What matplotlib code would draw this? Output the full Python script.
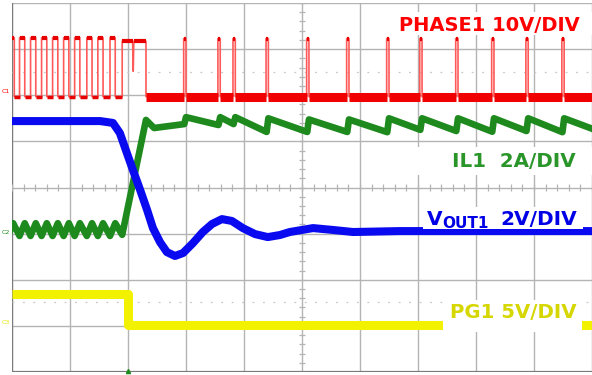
import numpy as np
import matplotlib.pyplot as plt
from matplotlib.patches import Rectangle

plt.rcParams['font.family'] = ['DejaVu Sans']

# time axis in scope divisions (10 div across the screen), transient at 2.0 div
# CH1 PHASE1, 10 V/div, ground marker at 5.97 div
ph_scale, ph_offset = 10.0, 5.97
ph_on = [-0.05, 0.13, 0.32, 0.51, 0.70, 0.89, 1.08, 1.29, 1.48, 1.69]
ph_off = [0.04, 0.22, 0.41, 0.60, 0.79, 0.98, 1.17, 1.38, 1.57, 1.78]
ph_high = 12.8
ph_hold = [1.90, 2.31]
ph_hold_level = 12.0
ph_dip_t = 2.09
ph_dip_level = 5.5
spikes = [2.98, 3.57, 3.83, 4.40, 5.10, 5.79, 6.48, 7.05, 7.67, 8.29, 8.88, 9.50]
spike_level = 12.6

# CH2 IL1, 2 A/div, ground marker at 3 div
il_scale, il_offset = 2.0, 3.0
il_peaks = [0.02, 0.22, 0.41, 0.60, 0.79, 0.98, 1.17, 1.38, 1.57, 1.78]
il_valley = -0.1
il_peak = 0.45
il_ramp_t = [1.90, 2.31, 2.45]
il_ramp_a = [-0.05, 4.93, 4.58]
il_before = [4.75, 4.71, 4.75, 4.41, 4.41, 4.41, 4.40, 4.50, 4.45, 4.42, 4.45, 4.40]
il_after = [5.05, 5.05, 5.05, 5.00, 4.95, 4.95, 5.00, 5.00, 5.00, 5.00, 5.00, 5.00]
il_end = 4.55

# CH4 VOUT1, 2 V/div, ground at 2 div
vo_scale, vo_offset = 2.0, 2.0
vo_t = [0.0, 1.17, 1.52, 1.74, 1.86, 1.98, 2.09, 2.21, 2.33, 2.43, 2.55, 2.67,
        2.81, 2.95, 3.12, 3.29, 3.45, 3.62, 3.79, 3.98, 4.19, 4.41, 4.62, 4.79,
        5.19, 5.53, 5.88, 6.69, 10.0]
vo_v = [6.88, 6.88, 6.88, 6.80, 6.36, 5.50, 4.72, 3.89, 3.02, 2.24, 1.64, 1.20,
        1.03, 1.16, 1.59, 2.07, 2.42, 2.63, 2.55, 2.24, 1.98, 1.85, 1.94, 2.07,
        2.24, 2.16, 2.07, 2.11, 2.11]

# CH3 PG1, 5 V/div, ground at 1 div
pg_scale, pg_offset = 5.0, 1.0
pg_t = [0.0, 2.0, 2.0, 10.0]
pg_v = [3.45, 3.45, 0.1, 0.1]


def to_div(values, offset, scale):
    return offset + np.asarray(values, dtype=float) / scale


# build PHASE1 trace
ph_t, ph_v = [], []
for on, off in zip(ph_on, ph_off):
    ph_t += [on, on, off, off]
    ph_v += [0, ph_high, ph_high, 0]
ph_t += [ph_hold[0], ph_hold[0], ph_dip_t - 0.01, ph_dip_t, ph_dip_t + 0.01,
         ph_hold[1], ph_hold[1]]
ph_v += [0, ph_hold_level, ph_hold_level, ph_dip_level, ph_hold_level,
         ph_hold_level, 0]
for s in spikes:
    ph_t += [s - 0.02, s - 0.02, s + 0.02, s + 0.02]
    ph_v += [0, spike_level, spike_level, 0]
ph_t.append(10.0)
ph_v.append(0)
ph_t = np.array(ph_t)
ph_v = np.array(ph_v, dtype=float)

# build IL1 trace
il_t, il_a = [], []
for p in il_peaks:
    il_t += [p - 0.09, p]
    il_a += [il_valley, il_peak]
il_t += il_ramp_t
il_a += il_ramp_a
for s, b, a in zip(spikes, il_before, il_after):
    il_t += [s - 0.01, s + 0.02]
    il_a += [b, a]
il_t.append(10.0)
il_a.append(il_end)

fig = plt.figure(figsize=(5.92, 3.75), dpi=100)
ax = fig.add_axes([12 / 592, 3 / 375, 580 / 592, 369 / 375])
ax.set_xlim(0, 10)
ax.set_ylim(0, 8)
ax.set_xticks([])
ax.set_yticks([])
for sp in ax.spines.values():
    sp.set_visible(False)

# graticule
grid_c = '#b4b4b4'
for x in range(11):
    ax.axvline(x, color=grid_c, lw=1.0, zorder=0)
for y in range(9):
    ax.axhline(y, color=grid_c, lw=1.0, zorder=0)
ax.axvline(0, color='#7a7a7a', lw=1.6, zorder=0)
ax.axhline(0, color='#7a7a7a', lw=1.6, zorder=0)
ax.vlines(np.arange(0, 10.01, 0.2), 4 - 0.07, 4 + 0.07, color=grid_c, lw=0.9, zorder=0)
ax.hlines(np.arange(0, 8.01, 0.2), 5 - 0.05, 5 + 0.05, color=grid_c, lw=0.9, zorder=0)
for y in [6.5, 1.52]:
    ax.axhline(y, color='#c8c8c8', lw=0.9, ls=(0, (1.5, 6.85)), zorder=0)

# PG1
ax.plot(pg_t, to_div(pg_v, pg_offset, pg_scale), color='#f2f200', lw=6.5,
        solid_capstyle='butt', zorder=2)

# IL1
ax.plot(il_t, to_div(il_a, il_offset, il_scale), color='#1e8a1e', lw=4.8,
        solid_joinstyle='round', zorder=3)

# VOUT1
ax.plot(vo_t, to_div(vo_v, vo_offset, vo_scale), color='#0a0af0', lw=5.8,
        solid_joinstyle='round', zorder=4)

# PHASE1
ph_y = to_div(ph_v, ph_offset, ph_scale)
ax.plot(ph_t, ph_y, color='#ff5a5a', lw=1.2, zorder=5)
low = np.where(ph_v < 1, ph_y, np.nan)
post = ph_t >= ph_hold[1]
ax.plot(ph_t[post], low[post], color='#f00000', lw=6.5,
        solid_capstyle='butt', zorder=5)
ax.plot(ph_t[~post], low[~post], color='#e80000', lw=2.5,
        solid_capstyle='butt', zorder=5)
high = np.where(ph_v > 10, ph_y, np.nan)
ax.plot(ph_t, high, color='#e80000', lw=3, solid_capstyle='butt', zorder=5)

# channel markers
ax.text(-0.1, to_div(0, ph_offset, ph_scale) + 0.12, 'C1', color='#ff0000',
        fontsize=4.5, ha='center', va='center', clip_on=False)
ax.text(-0.1, il_offset + 0.02, 'C2', color='#1e8a1e', fontsize=4.5,
        ha='center', va='center', clip_on=False)
ax.text(-0.1, pg_offset + 0.08, 'C3', color='#e6e600', fontsize=4.5,
        ha='center', va='center', clip_on=False)
ax.plot([2.0], [0.03], marker='^', color='#1e8a1e', ms=3, clip_on=False, zorder=6)

# white label backgrounds
for x0, x1, y0, y1 in [(6.60, 10.0, 7.31, 7.80), (6.95, 10.0, 4.27, 4.88),
                       (7.09, 9.85, 3.10, 3.58), (7.43, 9.83, 0.87, 1.56)]:
    ax.add_patch(Rectangle((x0, y0), x1 - x0, y1 - y0, facecolor='white',
                           edgecolor='none', zorder=9))

# channel labels
lab = dict(fontweight='bold', va='baseline', zorder=10)
ax.text(9.79, 7.39, 'PHASE1 10V/DIV', color='#ff0000', fontsize=14,
        ha='right', **lab)
ax.text(9.71, 4.44, 'IL1  2A/DIV', color='#2a962a', fontsize=14.3,
        ha='right', **lab)
ax.text(7.15, 3.19, 'V', color='#0000e6', fontsize=14.5, ha='left', **lab)
ax.text(7.41, 3.12, 'OUT1', color='#0000e6', fontsize=11, ha='left', **lab)
ax.text(9.74, 3.19, '2V/DIV', color='#0000e6', fontsize=14.5, ha='right', **lab)
ax.text(9.74, 1.16, 'PG1 5V/DIV', color='#d6d600', fontsize=14.2,
        ha='right', **lab)

fig.savefig('out.png', dpi=100)
